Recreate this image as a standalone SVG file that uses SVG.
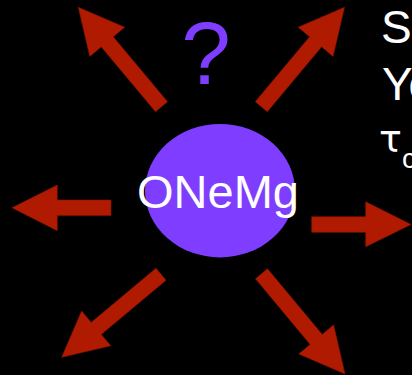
<svg xmlns="http://www.w3.org/2000/svg" width="412" height="375" viewBox="0 0 412 375">
  <style>
    .arrow { fill: #b01a00; stroke: #8c1500; stroke-width: 0.6; stroke-linejoin: miter; }
    .core { fill: #7f3dff; }
    .label { font-family: "Liberation Sans", Arial, sans-serif; fill: #ffffff; }
    .greek { font-family: "DejaVu Sans", "Liberation Sans", sans-serif; fill: #ffffff; }
    .query { font-family: "Liberation Sans", Arial, sans-serif; fill: #7f3dff; }
  </style>
  <rect x="0" y="0" width="412" height="375" fill="#000000"/>

  <!-- outgoing arrows -->
  <g id="connectors">
    <polygon id="arrow-left" class="arrow" points="111,200 57.3,200 57.3,185 12,207.8 57.3,230.7 57.3,215.6 111,215.6"/>
    <polygon id="arrow-right" class="arrow" points="311.7,216.7 365.7,216.7 365.7,201.7 411,224.4 365.7,246.8 365.7,232.3 311.7,232.3"/>
    <polygon id="arrow-upleft" class="arrow" points="167.5,101.7 113.2,36.8 124.6,27.2 78.3,7.3 89.8,56.4 101.2,46.8 155.5,111.7"/>
    <polygon id="arrow-upright" class="arrow" points="255.3,101.7 309.6,36.8 298.2,27.2 344.5,7.3 333,56.4 321.6,46.8 267.3,111.7"/>
    <polygon id="arrow-downleft" class="arrow" points="156,268.2 91.2,322.4 81.6,311 61.7,357.3 110.8,345.8 101.2,334.4 166,280.2"/>
    <polygon id="arrow-downright" class="arrow" points="255.5,278.8 310.2,344.4 298.8,353.9 345,374 333.6,324.9 322.2,334.4 267.5,268.8"/>
  </g>

  <!-- central core -->
  <g id="core">
    <ellipse class="core" cx="220" cy="190.7" rx="75" ry="66.7"/>
    <text class="label" x="218" y="208" font-size="47" text-anchor="middle">ONeMg</text>
  </g>

  <!-- unknown outcome -->
  <g id="question">
    <text class="query" x="206" y="84" font-size="89" text-anchor="middle">?</text>
  </g>

  <!-- side notes -->
  <g id="notes">
    <text class="label" x="381" y="43" font-size="46">S</text>
    <text class="label" x="382" y="99.5" font-size="46">Yo</text>
    <text class="greek" x="379" y="152" font-size="38">τ</text>
    <text class="label" x="402" y="168" font-size="28">c</text>
  </g>
</svg>
